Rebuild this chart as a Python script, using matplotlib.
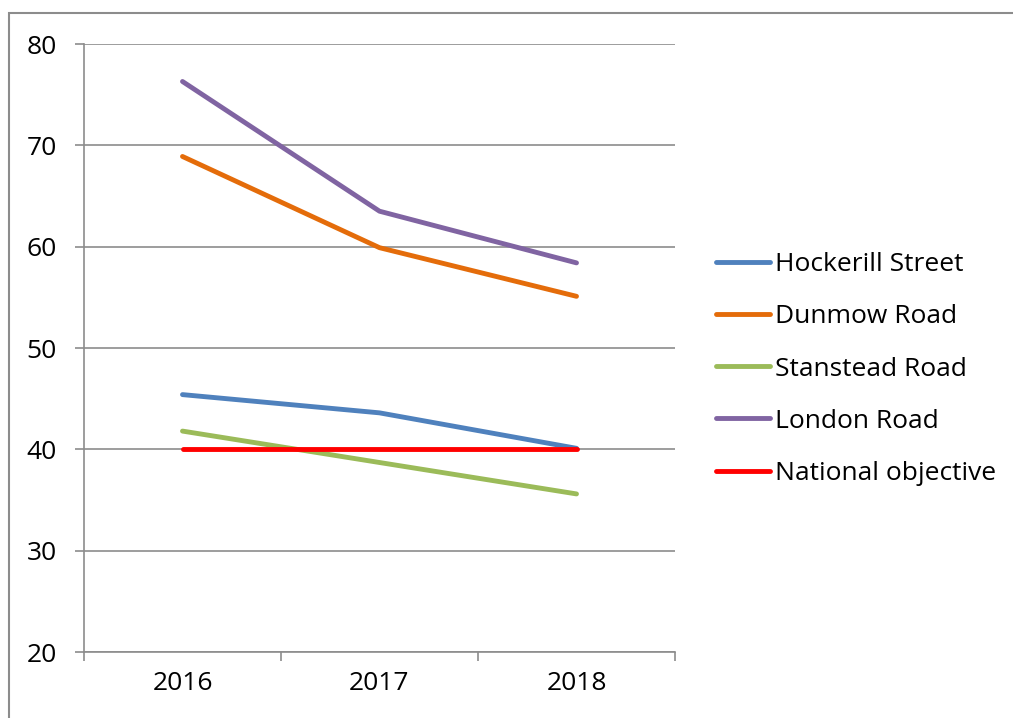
import matplotlib
matplotlib.use("Agg")
import matplotlib.pyplot as plt
from matplotlib.patches import Rectangle

plt.rcParams['font.family'] = ['Open Sans', 'DejaVu Sans']

years = ["2016", "2017", "2018"]
hockerill = [45.4, 43.6, 40.1]
dunmow = [68.9, 59.9, 55.1]
stanstead = [41.8, 38.7, 35.6]
london = [76.3, 63.5, 58.4]
national = [40, 40, 40]

series = [
    ("Hockerill Street", hockerill, "#4F81BD"),
    ("Dunmow Road", dunmow, "#E46C0A"),
    ("Stanstead Road", stanstead, "#9BBB59"),
    ("London Road", london, "#8064A2"),
    ("National objective", national, "#FF0000"),
]

W, H = 1013, 718
fig = plt.figure(figsize=(W / 100, H / 100), dpi=100)
fig.patches.append(Rectangle((9 / W, -0.1), 1.2, 1 - 13 / H + 0.1,
                             transform=fig.transFigure, fill=False,
                             edgecolor="#8c8c8c", linewidth=1.5))

ax = fig.add_axes([84 / W, 1 - 652 / H, (675 - 84) / W, (652 - 44) / H])
x = [i + 0.5 for i in range(len(years))]
for name, vals, color in series:
    ax.plot(x, vals, color=color, linewidth=3.5, label=name, solid_capstyle="round")

ax.set_xlim(0, 3)
ax.set_ylim(20, 80)
ax.set_yticks(range(20, 81, 10))
ax.set_xticks([0, 1, 2, 3])
ax.set_xticklabels([])
ax.set_xticks(x, minor=True)
ax.set_xticklabels(years, minor=True)
ax.tick_params(axis="x", which="minor", length=0, pad=14, labelsize=19)
ax.tick_params(axis="x", which="major", length=6.5, width=1.2, color="#8c8c8c")
ax.tick_params(axis="y", length=6.5, width=1.2, color="#8c8c8c", pad=13, labelsize=19)
ax.grid(axis="y", color="#8c8c8c", linewidth=1.2)
ax.set_axisbelow(True)
for s in ["top", "right"]:
    ax.spines[s].set_visible(False)
for s in ["left", "bottom"]:
    ax.spines[s].set_color("#8c8c8c")
    ax.spines[s].set_linewidth(1.2)

leg = fig.legend(loc="center left", bbox_to_anchor=(705 / W, 1 - 369 / H),
                 frameon=False, fontsize=19, handlelength=2.05, handletextpad=0.2,
                 labelspacing=1.03, borderaxespad=0)

fig.savefig("out.png", dpi=100)
